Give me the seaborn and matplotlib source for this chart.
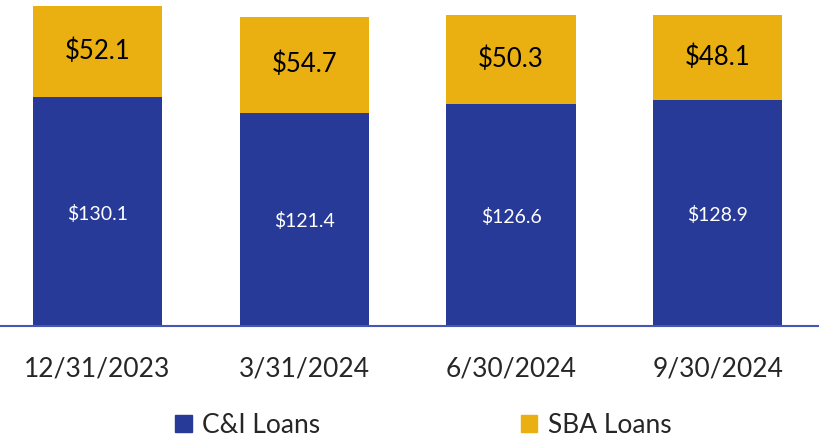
import pandas as pd
import seaborn as sns
import matplotlib.pyplot as plt
from matplotlib.patches import Patch

dates = ["12/31/2023", "3/31/2024", "6/30/2024", "9/30/2024"]
ci_loans = [130.1, 121.4, 126.6, 128.9]
sba_loans = [52.1, 54.7, 50.3, 48.1]

blue = "#283A97"
gold = "#EAB011"

df = pd.DataFrame({"date": dates, "ci": ci_loans, "sba": sba_loans})
df["total"] = df["ci"] + df["sba"]

sns.set_style("white")
plt.rcParams["font.family"] = ["Lato", "DejaVu Sans"]

fig = plt.figure(figsize=(8.19, 4.43), dpi=100)
ax = fig.add_axes([0, 0.264, 1, 0.736])

# totals in gold first, C&I on top of it -> stacked look
sns.barplot(data=df, x="date", y="total", color=gold, width=0.625,
            saturation=1, linewidth=0, ax=ax)
sns.barplot(data=df, x="date", y="ci", color=blue, width=0.625,
            saturation=1, linewidth=0, ax=ax)

# labels
for i, row in df.iterrows():
    ax.text(i, row["ci"] / 2 - 1, f"${row['ci']:.1f}", ha="center", va="center",
            color="white", fontsize=14)
    ax.text(i, row["ci"] + row["sba"] / 2, f"${row['sba']:.1f}", ha="center",
            va="center", color="black", fontsize=18.5)

ax.set_xlim(-0.472, 3.49)
ax.set_ylim(0, 185.6)
ax.set_xlabel("")
ax.set_ylabel("")
ax.set_yticks([])
ax.tick_params(axis="x", length=0, labelsize=19, pad=22)
for s in ["top", "right", "left"]:
    ax.spines[s].set_visible(False)
ax.spines["bottom"].set_color("#4656B4")
ax.spines["bottom"].set_linewidth(1.5)

handles = [Patch(color=blue, label="C&I Loans"), Patch(color=gold, label="SBA Loans")]
fig.legend(handles=handles, loc="center", bbox_to_anchor=(0.517, 0.04), ncol=2,
           frameon=False, fontsize=19, handlelength=0.62, handleheight=0.62,
           handletextpad=0.4, columnspacing=7.6)

fig.savefig("out.png", dpi=100)
